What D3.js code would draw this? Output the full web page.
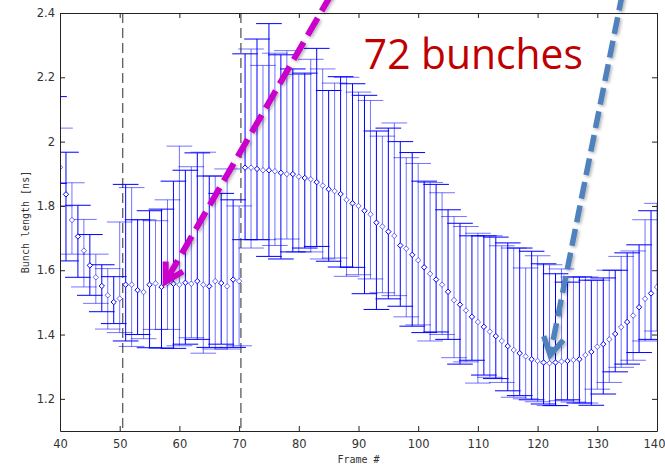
<!DOCTYPE html>
<html>
<head>
<meta charset="utf-8">
<script src="https://cdn.jsdelivr.net/npm/d3@7/dist/d3.min.js"></script>
<style>
  body { margin: 0; background: #fff; }
  svg { display: block; }
</style>
</head>
<body>
<svg id="chart" width="665" height="464"></svg>
<script>
// frame numbers (x categories), bars left of 40 only show clipped caps
const frames = d3.range(38, 141);

// mean bunch length [ns] per frame
const means = [
  2.10, 2.00, 1.92,
  1.836, 1.756, 1.705, 1.661, 1.615, 1.578, 1.551, 1.522, 1.501, 1.512,
  1.555, 1.555, 1.538, 1.532, 1.555, 1.559, 1.548, 1.560, 1.558, 1.555,
  1.561, 1.558, 1.566, 1.555, 1.550, 1.566, 1.560, 1.550, 1.571, 1.566,
  1.919, 1.919, 1.915, 1.911, 1.911, 1.908, 1.903, 1.899, 1.899, 1.891,
  1.887, 1.883, 1.874, 1.863, 1.852, 1.846, 1.837, 1.819, 1.808, 1.800,
  1.785, 1.774, 1.748, 1.736, 1.720, 1.707, 1.677, 1.667, 1.648, 1.631,
  1.609, 1.589, 1.571, 1.555, 1.533, 1.507, 1.493, 1.475, 1.455, 1.439,
  1.424, 1.409, 1.395, 1.380, 1.364, 1.352, 1.342, 1.332, 1.323, 1.318,
  1.313, 1.311, 1.313, 1.316, 1.318, 1.321, 1.323, 1.336, 1.346, 1.362,
  1.370, 1.385, 1.402, 1.423, 1.439, 1.459, 1.485, 1.511, 1.528, 1.548
];

// top of error bar
const upper = [
  2.26, 2.14, 2.042,
  1.967, 1.872, 1.802, 1.758, 1.711, 1.650, 1.617, 1.605, 1.580, 1.750,
  1.867, 1.857, 1.757, 1.757, 1.785, 1.754, 1.790, 1.819, 1.877, 1.986,
  1.911, 1.922, 1.965, 1.967, 1.893, 1.893, 1.839, 1.915, 1.819, 1.800,
  2.273, 2.288, 2.319, 2.237, 2.367, 2.275, 2.270, 2.283, 2.226, 2.209,
  2.213, 2.256, 2.290, 2.226, 2.159, 2.182, 2.202, 2.200, 2.180, 2.154,
  2.144, 2.128, 2.033, 2.017, 2.042, 2.058, 2.000, 1.950, 1.966, 1.932,
  1.877, 1.873, 1.867, 1.841, 1.788, 1.767, 1.746, 1.736, 1.707, 1.715,
  1.707, 1.707, 1.703, 1.676, 1.685, 1.669, 1.669, 1.607, 1.659, 1.645,
  1.620, 1.617, 1.589, 1.604, 1.563, 1.579, 1.579, 1.579, 1.569, 1.569,
  1.576, 1.600, 1.600, 1.643, 1.654, 1.660, 1.679, 1.757, 1.785, 1.808
];

// bottom of error bar
const lower = [
  1.96, 1.87, 1.80,
  1.629, 1.650, 1.578, 1.548, 1.522, 1.497, 1.471, 1.417, 1.434, 1.406,
  1.380, 1.363, 1.400, 1.387, 1.359, 1.416, 1.358, 1.416, 1.357, 1.365,
  1.370, 1.390, 1.385, 1.342, 1.360, 1.355, 1.370, 1.355, 1.360, 1.365,
  1.695, 1.669, 1.695, 1.695, 1.643, 1.677, 1.635, 1.697, 1.657, 1.657,
  1.669, 1.657, 1.674, 1.635, 1.628, 1.638, 1.610, 1.581, 1.609, 1.586,
  1.527, 1.573, 1.478, 1.530, 1.511, 1.521, 1.488, 1.455, 1.426, 1.430,
  1.406, 1.380, 1.408, 1.400, 1.385, 1.328, 1.308, 1.315, 1.320, 1.249,
  1.274, 1.267, 1.263, 1.251, 1.225, 1.205, 1.210, 1.200, 1.197, 1.191,
  1.184, 1.179, 1.179, 1.194, 1.197, 1.190, 1.187, 1.187, 1.180, 1.230,
  1.215, 1.251, 1.284, 1.298, 1.308, 1.320, 1.344, 1.380, 1.385, 1.411
];

const separators = [50.5, 70.3];
const xTicks = [40, 50, 60, 70, 80, 90, 100, 110, 120, 130, 140];
const yTicks = [1.2, 1.4, 1.6, 1.8, 2.0, 2.2, 2.4];

// annotations, in data units
const noteText = '72 bunches';
const noteAt = { frame: 90.9, value: 2.226 };
const arrowDefs = [
  { from: { frame: 85.5, value: 2.46 }, to: { frame: 57.7, value: 1.565 }, color: '#cc00cc', width: 6, dash: '20,8' },
  { from: { frame: 134.2, value: 2.46 }, to: { frame: 122.1, value: 1.336 }, color: '#4f81bd', width: 5.5, dash: '17,7' }
];

const svg = d3.select('#chart');
const margin = { top: 13, right: 8, bottom: 33, left: 60 };
const width = 665, height = 464;
const innerW = width - margin.left - margin.right;
const innerH = height - margin.top - margin.bottom;

const x = d3.scaleLinear().domain([40, 140]).range([margin.left, width - margin.right]);
const y = d3.scaleLinear().domain([1.1, 2.4]).range([height - margin.bottom, margin.top]);

const capHalf = 2.15; // frames
const blue = '#0000ff';

const rows = frames.map((f, i) => ({ f, mean: means[i], hi: upper[i], lo: lower[i], i }));

svg.append('rect').attr('width', width).attr('height', height).attr('fill', '#fff');

const defs = svg.append('defs');
defs.append('clipPath').attr('id', 'plot-clip')
  .append('rect')
  .attr('x', margin.left).attr('y', margin.top)
  .attr('width', innerW).attr('height', innerH);

const shadow = defs.append('filter').attr('id', 'shadow')
  .attr('x', '-20%').attr('y', '-20%').attr('width', '140%').attr('height', '140%');
shadow.append('feDropShadow')
  .attr('dx', 1.5).attr('dy', 1.5).attr('stdDeviation', 1.5)
  .attr('flood-color', '#000').attr('flood-opacity', 0.3);

const plot = svg.append('g').attr('clip-path', 'url(#plot-clip)');

// vertical separators
plot.selectAll('.sep')
  .data(separators)
  .enter()
  .append('line')
  .attr('class', 'sep')
  .attr('x1', d => x(d)).attr('x2', d => x(d))
  .attr('y1', margin.top).attr('y2', height - margin.bottom)
  .style('stroke', '#666')
  .style('stroke-width', 1.4)
  .style('stroke-dasharray', '10,5');

// error bars
const bars = plot.append('g').attr('class', 'errorbars')
  .selectAll('g')
  .data(rows)
  .enter()
  .append('g')
  .style('stroke', blue)
  .style('stroke-width', 1)
  .style('stroke-opacity', d => d.f % 2 ? 1 : 0.55);

bars.append('line')
  .attr('x1', d => x(d.f)).attr('x2', d => x(d.f))
  .attr('y1', d => y(d.hi)).attr('y2', d => y(d.lo));
bars.append('line')
  .attr('x1', d => x(d.f - capHalf)).attr('x2', d => x(d.f + capHalf))
  .attr('y1', d => y(d.hi)).attr('y2', d => y(d.hi));
bars.append('line')
  .attr('x1', d => x(d.f - capHalf)).attr('x2', d => x(d.f + capHalf))
  .attr('y1', d => y(d.lo)).attr('y2', d => y(d.lo));

// diamond markers
const dm = 2.7;
plot.append('g').attr('class', 'markers')
  .selectAll('path')
  .data(rows)
  .enter()
  .append('path')
  .attr('transform', d => `translate(${x(d.f)},${y(d.mean)})`)
  .attr('d', `M0,${-dm}L${dm},0L0,${dm}L${-dm},0Z`)
  .style('fill', '#fff')
  .style('stroke', blue)
  .style('stroke-width', 1)
  .style('stroke-opacity', d => d.f % 2 ? 1 : 0.6);

// axes, ticks pointing inward on all four sides
const fmt = d => String(+d.toFixed(1));
const axisColor = '#222';

const styleAxis = g => {
  g.select('.domain').style('stroke', axisColor);
  g.selectAll('.tick line').style('stroke', axisColor);
  g.selectAll('.tick text')
    .style('fill', '#333')
    .style('font-family', '"DejaVu Sans", sans-serif')
    .style('font-size', '11.5px');
};

const xAxisG = svg.append('g')
  .attr('transform', `translate(0,${height - margin.bottom})`)
  .call(d3.axisBottom(x).tickValues(xTicks).tickSizeInner(-5).tickSizeOuter(0).tickPadding(9))
  .call(styleAxis);

// last label sits against the right edge of the picture
xAxisG.selectAll('.tick text')
  .filter(d => d === 140)
  .attr('text-anchor', 'end')
  .attr('dx', 8);

svg.append('g')
  .attr('transform', `translate(${margin.left},0)`)
  .call(d3.axisLeft(y).tickValues(yTicks).tickFormat(fmt).tickSizeInner(-5).tickSizeOuter(0).tickPadding(5))
  .call(styleAxis);

svg.append('g')
  .attr('transform', `translate(0,${margin.top})`)
  .call(d3.axisTop(x).tickValues(xTicks).tickFormat('').tickSizeInner(-5).tickSizeOuter(0))
  .call(styleAxis);

svg.append('g')
  .attr('transform', `translate(${width - margin.right},0)`)
  .call(d3.axisRight(y).tickValues(yTicks).tickFormat('').tickSizeInner(-5).tickSizeOuter(0))
  .call(styleAxis);

// axis titles
svg.append('text')
  .attr('x', (margin.left + width - margin.right) / 2)
  .attr('y', 463)
  .attr('text-anchor', 'middle')
  .style('font-family', '"DejaVu Sans Mono", monospace')
  .style('font-size', '10px')
  .style('fill', '#333')
  .text('Frame #');

svg.append('text')
  .attr('transform', `translate(29,${margin.top + innerH / 2}) rotate(-90)`)
  .attr('text-anchor', 'middle')
  .style('font-family', '"DejaVu Sans Mono", monospace')
  .style('font-size', '10px')
  .style('fill', '#333')
  .text('Bunch length [ns]');

// annotation text
svg.append('text')
  .attr('x', x(noteAt.frame))
  .attr('y', y(noteAt.value))
  .attr('textLength', 219)
  .attr('lengthAdjust', 'spacingAndGlyphs')
  .style('font-family', '"Open Sans", "Liberation Sans", sans-serif')
  .style('font-size', '42px')
  .style('fill', '#c00000')
  .text(noteText);

// dashed arrows with open chevron heads
const arrowLayer = svg.append('g').attr('filter', 'url(#shadow)');
arrowDefs.forEach(a => {
  const x0 = x(a.from.frame), y0 = y(a.from.value);
  const x1 = x(a.to.frame), y1 = y(a.to.value);
  const back = Math.atan2(y0 - y1, x0 - x1);
  const armLen = 20, spread = Math.PI / 6;
  const arm = s => [x1 + armLen * Math.cos(back + s), y1 + armLen * Math.sin(back + s)];

  arrowLayer.append('line')
    .attr('x1', x0).attr('y1', y0)
    .attr('x2', x1).attr('y2', y1)
    .style('stroke', a.color)
    .style('stroke-width', a.width)
    .style('stroke-dasharray', a.dash);

  arrowLayer.append('path')
    .attr('d', d3.line()([arm(-spread), [x1, y1], arm(spread)]))
    .style('fill', 'none')
    .style('stroke', a.color)
    .style('stroke-width', a.width)
    .style('stroke-linejoin', 'miter');
});
</script>
</body>
</html>
